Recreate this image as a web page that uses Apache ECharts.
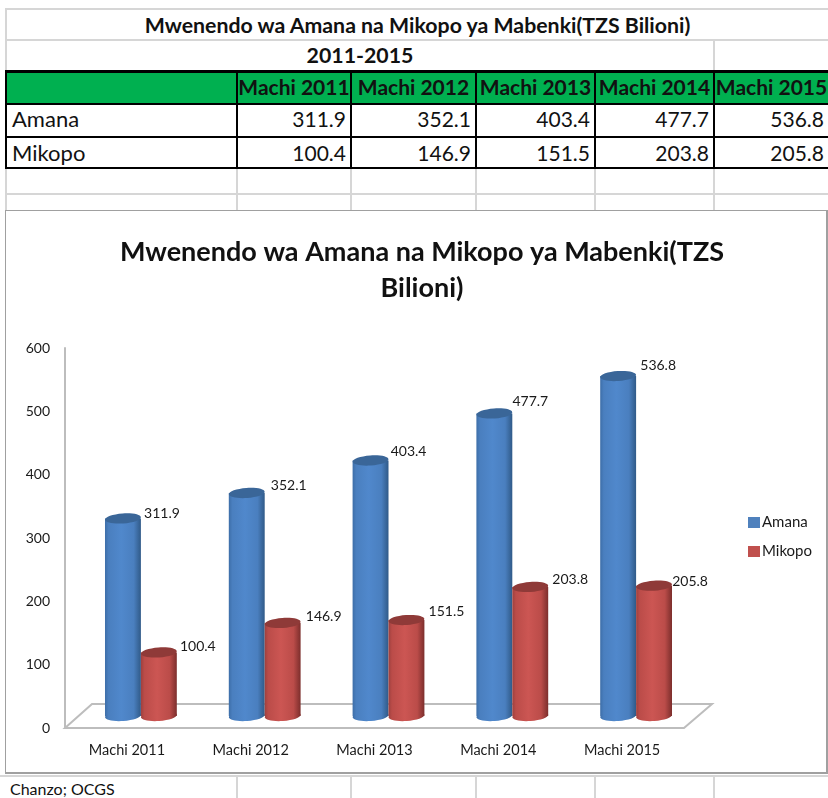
<!DOCTYPE html>
<html>
<head>
<meta charset="utf-8">
<title>Mwenendo wa Amana na Mikopo</title>
<script src="https://cdn.jsdelivr.net/npm/echarts@6/dist/echarts.min.js"></script>
<style>
html, body { margin: 0; padding: 0; background: #fff; }
body { position: relative; width: 828px; height: 798px; overflow: hidden; font-family: Lato, sans-serif; color: #111; }
table { position: absolute; left: 5px; top: 8px; width: 823px; table-layout: fixed; border-collapse: collapse; }
td { padding: 0 4px; border: 2px solid #d6d6d6; white-space: nowrap; overflow: visible; }
.title td { font-weight: bold; font-size: 21.3px; text-align: center; }
.head td { background: #00b050; border: 2px solid #000; border-top-width: 3px; font-weight: bold; font-size: 21px; text-align: center; padding: 0 0 2px; }
.row td { border: 2px solid #000; font-size: 21px; text-align: right; }
.row.first td { padding-bottom: 4px; }
.row td:first-child { text-align: left; padding-left: 5px; font-size: 22px; }
.empty td { border-color: #d6d6d6; }
#box { position: absolute; left: 5px; top: 210px; width: 820px; height: 561px; background: #fff; border: 1px solid #a0a0a0; border-bottom-width: 2px; border-right-width: 2px; }
#source { position: absolute; left: 10px; top: 779px; font-size: 16px; }
.grid-line { position: absolute; background: #d6d6d6; }
#chart { position: absolute; left: 0; top: 0; width: 828px; height: 798px; }
</style>
</head>
<body>
<table id="sheet"></table>
<div id="box"></div>
<div class="grid-line" style="left:0;top:775px;width:828px;height:2px"></div>
<div class="grid-line" style="left:236px;top:775px;width:2px;height:23px"></div>
<div class="grid-line" style="left:350px;top:775px;width:2px;height:23px"></div>
<div class="grid-line" style="left:475px;top:775px;width:2px;height:23px"></div>
<div class="grid-line" style="left:594px;top:775px;width:2px;height:23px"></div>
<div class="grid-line" style="left:713px;top:775px;width:2px;height:23px"></div>
<div id="source">Chanzo; OCGS</div>
<div id="chart"></div>
<script>
const categories = ['Machi 2011', 'Machi 2012', 'Machi 2013', 'Machi 2014', 'Machi 2015']
const amana = [311.9, 352.1, 403.4, 477.7, 536.8]
const mikopo = [100.4, 146.9, 151.5, 203.8, 205.8]
const chartTitle = 'Mwenendo wa Amana na Mikopo ya Mabenki(TZS Bilioni)'
const subTitle = '2011-2015'

// spreadsheet above the chart
const colWidths = [231, 114, 125, 119, 119, 115]
const fmt = (v) => v.toFixed(1)
const cells = (arr) => arr.map((v) => `<td>${v}</td>`).join('')
document.getElementById('sheet').innerHTML =
  `<colgroup>${colWidths.map((w) => `<col style="width:${w}px">`).join('')}</colgroup>` +
  `<tr class="title" style="height:31px"><td colspan="6">${chartTitle}</td></tr>` +
  `<tr class="title" style="height:31px"><td colspan="5">${subTitle}</td><td></td></tr>` +
  `<tr class="head" style="height:33px"><td></td>${cells(categories)}</tr>` +
  `<tr class="row first" style="height:32px"><td>Amana</td>${cells(amana.map(fmt))}</tr>` +
  `<tr class="row" style="height:31px"><td>Mikopo</td>${cells(mikopo.map(fmt))}</tr>` +
  `<tr class="empty" style="height:26px">${cells(['', '', '', '', '', ''])}</tr>` +
  `<tr class="empty" style="height:18px">${cells(['', '', '', '', '', ''])}</tr>`

const textColor = '#1a1a1a'
const labelFont = '14px Lato'
const depthX = 14
const depthY = -12
const tilt = 0.07

// hand placed data labels, as in the original: small [dx, dy] shifts per bar
const amanaNudge = [[0, 2], [3, -1], [-1, -2], [-3, -5], [1, -4]]
const mikopoNudge = [[0, 1], [2, 1], [1, -2], [1, 0], [-3, 3]]

// a cylinder standing on the floor, blue left of centre, red right of it
const cylinder = (side, colors, nudge) => (params, api) => {
  const top = api.coord([api.value(0), api.value(1)])
  const base = api.coord([api.value(0), 0])
  const w = api.size([1, 0])[0] * 0.29
  const x = top[0] + depthX + (side < 0 ? -w : 0)
  const cx = x + w / 2
  const yTop = top[1] + depthY
  const yBase = base[1] + depthY
  const ry = 5
  const [dx, dy] = nudge[params.dataIndex]
  const body = new echarts.graphic.LinearGradient(0, 0, 1, 0, [
    { offset: 0, color: colors[0] },
    { offset: 0.1, color: colors[1] },
    { offset: 0.45, color: colors[2] },
    { offset: 0.8, color: colors[1] },
    { offset: 1, color: colors[3] },
  ])
  return {
    type: 'group',
    children: [
      {
        type: 'ellipse',
        shape: { cx, cy: yBase, rx: w / 2, ry },
        rotation: tilt,
        originX: cx,
        originY: yBase,
        style: { fill: body },
      },
      { type: 'rect', shape: { x, y: yTop, width: w, height: yBase - yTop }, style: { fill: body } },
      {
        type: 'ellipse',
        shape: { cx, cy: yTop, rx: w / 2, ry },
        rotation: tilt,
        originX: cx,
        originY: yTop,
        style: { fill: colors[4] },
      },
      {
        type: 'text',
        style: {
          text: fmt(api.value(1)),
          x: cx + 39 + dx,
          y: yTop - 7 + dy,
          align: 'center',
          verticalAlign: 'middle',
          font: labelFont,
          fill: textColor,
        },
      },
    ],
  }
}

const chart = echarts.init(document.getElementById('chart'))
chart.setOption({
  animation: false,
  backgroundColor: 'transparent',
  textStyle: { fontFamily: 'Lato' },
  title: {
    text: 'Mwenendo wa Amana na Mikopo ya Mabenki(TZS\nBilioni)',
    left: 417,
    top: 229,
    textAlign: 'center',
    textStyle: { fontFamily: 'Lato', fontSize: 27, fontWeight: 'bold', color: '#111', lineHeight: 36 },
  },
  legend: {
    orient: 'vertical',
    left: 743,
    top: 510,
    itemWidth: 12,
    itemHeight: 11,
    itemGap: 14,
    icon: 'rect',
    textStyle: { fontFamily: 'Lato', fontSize: 15, color: textColor, padding: [0, 0, 0, -3] },
    data: ['Amana', 'Mikopo'],
  },
  grid: { left: 65, top: 348, width: 619, height: 380 },
  xAxis: {
    type: 'category',
    data: categories,
    axisLine: { show: false },
    axisTick: { show: false },
    axisLabel: { margin: 15, fontFamily: 'Lato', fontSize: 14.5, color: textColor },
  },
  yAxis: {
    type: 'value',
    min: 0,
    max: 600,
    interval: 100,
    axisLine: { show: true, lineStyle: { color: '#bdbdbd', width: 2 } },
    axisTick: { show: false },
    splitLine: { show: false },
    axisLabel: { margin: 15, fontFamily: 'Lato', fontSize: 14, color: textColor, padding: [4, 0, 0, 0] },
  },
  // floor of the 3D box
  graphic: [
    {
      type: 'polygon',
      z: 0,
      shape: { points: [[65, 728], [92, 704], [712, 704], [684, 728]] },
      style: { fill: '#fff', stroke: '#bdbdbd', lineWidth: 2 },
    },
  ],
  series: [
    {
      name: 'Amana',
      type: 'custom',
      z: 3,
      itemStyle: { color: '#4f81bd' },
      renderItem: cylinder(-1, ['#3d6ea8', '#4a7fbf', '#5088cc', '#305a88', '#3a6698'], amanaNudge),
      encode: { x: 0, y: 1 },
      data: amana.map((v, i) => [i, v]),
    },
    {
      name: 'Mikopo',
      type: 'custom',
      z: 4,
      itemStyle: { color: '#c0504d' },
      renderItem: cylinder(1, ['#9e403e', '#bb4c49', '#cc5653', '#7c2e2c', '#8f3a38'], mikopoNudge),
      encode: { x: 0, y: 1 },
      data: mikopo.map((v, i) => [i, v]),
    },
  ],
})
</script>
</body>
</html>
